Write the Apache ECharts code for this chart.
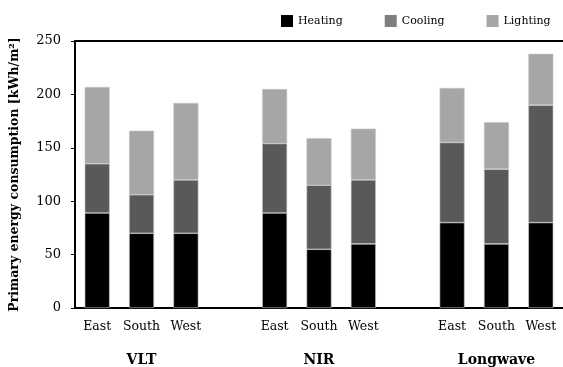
<!DOCTYPE html>
<html>
<head>
<meta charset="utf-8">
<script src="https://cdn.jsdelivr.net/npm/echarts@6/dist/echarts.min.js"></script>
<style>
  html, body { margin: 0; padding: 0; background: #fff; }
  #chart { width: 563px; height: 367px; }
</style>
</head>
<body>
<div id="chart"></div>
<script>
// Orientation of each bar; empty slots separate the three groups
const orientations = ['East', 'South', 'West', '', 'East', 'South', 'West', '', 'East', 'South', 'West'];
// Group captions shown under the middle bar of each group
const groupLabels = ['', 'VLT', '', '', '', 'NIR', '', '', '', 'Longwave', ''];

// Energy components (kWh/m²), stacked per bar; null for gaps
const heating  = [89, 70, 70, null, 89, 55, 60, null, 80, 60, 80];
const cooling  = [46, 36, 50, null, 65, 60, 60, null, 75, 70, 110];
const lighting = [72, 60, 72, null, 51, 44, 48, null, 51, 44, 48];

const yTicks = { min: 0, max: 250, interval: 50 };

const FONT = 'DejaVu Serif';
const chart = echarts.init(document.getElementById('chart'), null, { renderer: 'canvas' });

const barStyle = (color) => ({
  color: color,
  borderColor: '#c8c8c8',
  borderWidth: 0.6
});

chart.setOption({
  animation: false,
  backgroundColor: '#fff',
  textStyle: { fontFamily: FONT },
  legend: {
    left: 276,
    top: 10,
    icon: 'rect',
    itemWidth: 12,
    itemHeight: 12,
    itemGap: 42,
    textStyle: { fontFamily: FONT, fontSize: 11, color: '#000' },
    data: [
      { name: 'Heating', itemStyle: { color: '#000000', borderWidth: 0 } },
      { name: 'Cooling', itemStyle: { color: '#7f7f7f', borderWidth: 0 } },
      { name: 'Lighting', itemStyle: { color: '#a6a6a6', borderWidth: 0 } }
    ]
  },
  grid: { left: 72, top: 41, width: 493, height: 268, containLabel: false },
  xAxis: [
    {
      type: 'category',
      data: orientations,
      position: 'bottom',
      axisLine: { show: true, lineStyle: { color: '#000', width: 2 } },
      axisTick: { show: false },
      axisLabel: { fontFamily: FONT, fontSize: 12.5, color: '#000', margin: 12, interval: 0 }
    },
    {
      type: 'category',
      data: groupLabels,
      position: 'bottom',
      offset: 34,
      axisLine: { show: false },
      axisTick: { show: false },
      axisLabel: { fontFamily: FONT, fontSize: 14, fontWeight: 'bold', color: '#000', margin: 11, interval: 0 }
    },
    {
      type: 'category',
      data: orientations,
      position: 'top',
      axisLine: { show: true, lineStyle: { color: '#000', width: 2 } },
      axisTick: { show: false },
      axisLabel: { show: false }
    }
  ],
  yAxis: {
    type: 'value',
    min: yTicks.min,
    max: yTicks.max,
    interval: yTicks.interval,
    name: 'Primary energy consumption [kWh/m²]',
    nameLocation: 'middle',
    nameGap: 54,
    nameTextStyle: { fontFamily: FONT, fontSize: 12.5, fontWeight: 'bold', color: '#000' },
    axisLine: { show: true, lineStyle: { color: '#000', width: 2 } },
    axisTick: { show: true, inside: false, length: 4, lineStyle: { color: '#000', width: 1 } },
    axisLabel: { fontFamily: FONT, fontSize: 13, color: '#000', margin: 14 },
    splitLine: { show: false }
  },
  series: [
    { name: 'Heating', type: 'bar', stack: 'total', barWidth: 25, data: heating, itemStyle: barStyle('#000000') },
    { name: 'Cooling', type: 'bar', stack: 'total', barWidth: 25, data: cooling, itemStyle: barStyle('#595959') },
    { name: 'Lighting', type: 'bar', stack: 'total', barWidth: 25, data: lighting, itemStyle: barStyle('#a6a6a6') }
  ]
});
</script>
</body>
</html>
